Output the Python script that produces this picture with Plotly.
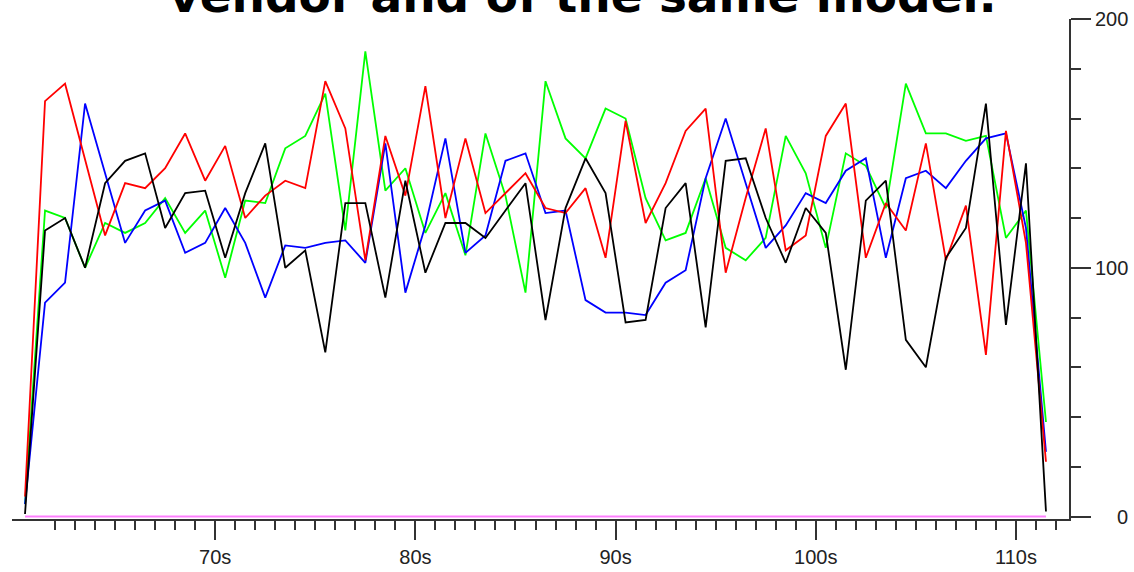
import plotly.graph_objects as go

# Sample times (seconds)
time_s = [60.5, 61.5, 62.5, 63.5, 64.5, 65.5, 66.5, 67.5, 68.5, 69.5,
          70.5, 71.5, 72.5, 73.5, 74.5, 75.5, 76.5, 77.5, 78.5, 79.5,
          80.5, 81.5, 82.5, 83.5, 84.5, 85.5, 86.5, 87.5, 88.5, 89.5,
          90.5, 91.5, 92.5, 93.5, 94.5, 95.5, 96.5, 97.5, 98.5, 99.5,
          100.5, 101.5, 102.5, 103.5, 104.5, 105.5, 106.5, 107.5, 108.5, 109.5,
          110.5, 111.5]

red = [8, 167, 174, 143, 113, 134, 132, 140, 154, 135,
       149, 120, 129, 135, 132, 175, 156, 103, 153, 129,
       173, 120, 152, 122, 130, 138, 124, 122, 132, 104,
       159, 118, 134, 155, 164, 98, 128, 156, 107, 113,
       153, 166, 104, 126, 115, 150, 103, 125, 65, 155,
       110, 22]

green = [5, 123, 120, 100, 118, 114, 118, 128, 114, 123,
         96, 127, 126, 148, 153, 170, 115, 187, 131, 140,
         114, 130, 105, 154, 129, 90, 175, 152, 144, 164,
         160, 128, 111, 114, 136, 108, 103, 112, 153, 138,
         108, 146, 141, 124, 174, 154, 154, 151, 153, 112,
         123, 38]

blue = [5, 86, 94, 166, 138, 110, 123, 127, 106, 110,
        124, 110, 88, 109, 108, 110, 111, 102, 150, 90,
        117, 152, 106, 113, 143, 146, 122, 123, 87, 82,
        82, 81, 94, 99, 136, 160, 134, 108, 117, 130,
        126, 139, 144, 104, 136, 139, 132, 143, 152, 154,
        116, 26]

black = [1, 115, 120, 100, 134, 143, 146, 116, 130, 131,
         104, 130, 150, 100, 107, 66, 126, 126, 88, 135,
         98, 118, 118, 112, 123, 134, 79, 124, 144, 130,
         78, 79, 124, 134, 76, 143, 144, 120, 102, 124,
         114, 59, 127, 135, 71, 60, 104, 116, 166, 77,
         142, 2]

pink = [0] * 52

x_major_ticks = [70, 80, 90, 100, 110]
x_major_labels = ["70s", "80s", "90s", "100s", "110s"]
x_minor_ticks = [62, 63, 64, 65, 66, 67, 68, 69, 71, 72, 73, 74, 75, 76, 77, 78, 79,
                 81, 82, 83, 84, 85, 86, 87, 88, 89, 91, 92, 93, 94, 95, 96, 97, 98, 99,
                 101, 102, 103, 104, 105, 106, 107, 108, 109, 111, 112]
y_major_ticks = [0, 100, 200]
y_major_labels = ["0", "100", "200"]
y_minor_ticks = [20, 40, 60, 80, 120, 140, 160, 180]

title_text = "vendor and of the same model."

AXIS = "#333333"
TICKFONT = dict(family="Liberation Sans, Arial, sans-serif", size=20, color="#222222")

fig = go.Figure()
series = [
    ("pink", pink, "#ff80ff", 2.2),
    ("green", green, "#00ff00", 1.8),
    ("blue", blue, "#0000ff", 1.8),
    ("red", red, "#ff0000", 1.8),
    ("black", black, "#000000", 1.8),
]
for name, vals, color, w in series:
    fig.add_trace(go.Scatter(x=time_s, y=vals, mode="lines", name=name,
                             line=dict(color=color, width=w),
                             hoverinfo="skip", showlegend=False))

fig.update_layout(
    width=1134, height=572,
    margin=dict(l=12, r=65, t=19, b=53, autoexpand=False),
    paper_bgcolor="white", plot_bgcolor="white",
    showlegend=False,
)

fig.update_xaxes(
    range=[59.85, 112.65], showgrid=False, zeroline=False,
    showline=True, linecolor=AXIS, linewidth=2,
    ticks="outside", ticklen=19, tickwidth=2, tickcolor=AXIS,
    tickvals=x_major_ticks, ticktext=x_major_labels, tickfont=TICKFONT,
    minor=dict(tickvals=x_minor_ticks, ticks="outside", ticklen=9,
               tickwidth=2, tickcolor=AXIS, showgrid=False),
)
fig.update_yaxes(
    side="right", range=[-1, 200], showgrid=False, zeroline=False,
    showline=True, linecolor=AXIS, linewidth=2,
    ticks="outside", ticklen=20, tickwidth=2, tickcolor=AXIS,
    tickvals=y_major_ticks, showticklabels=False,
    minor=dict(tickvals=y_minor_ticks, ticks="outside", ticklen=10,
               tickwidth=2, tickcolor=AXIS, showgrid=False),
)

for v, lab in zip(y_major_ticks, y_major_labels):
    fig.add_annotation(x=1.0577, xref="paper", y=v, yref="y", text=lab,
                       showarrow=False, xanchor="right", yanchor="middle",
                       font=TICKFONT)

fig.add_annotation(x=0.54, xref="paper", y=0.988, yref="paper",
                   text="<b>" + title_text + "</b>", showarrow=False,
                   xanchor="center", yanchor="bottom",
                   font=dict(family="DejaVu Sans, Verdana, sans-serif", size=47, color="#000000"))

fig.write_html("out.html",
               config={"displayModeBar": False},
               post_script="document.body.style.margin='0';document.body.style.padding='0';")
